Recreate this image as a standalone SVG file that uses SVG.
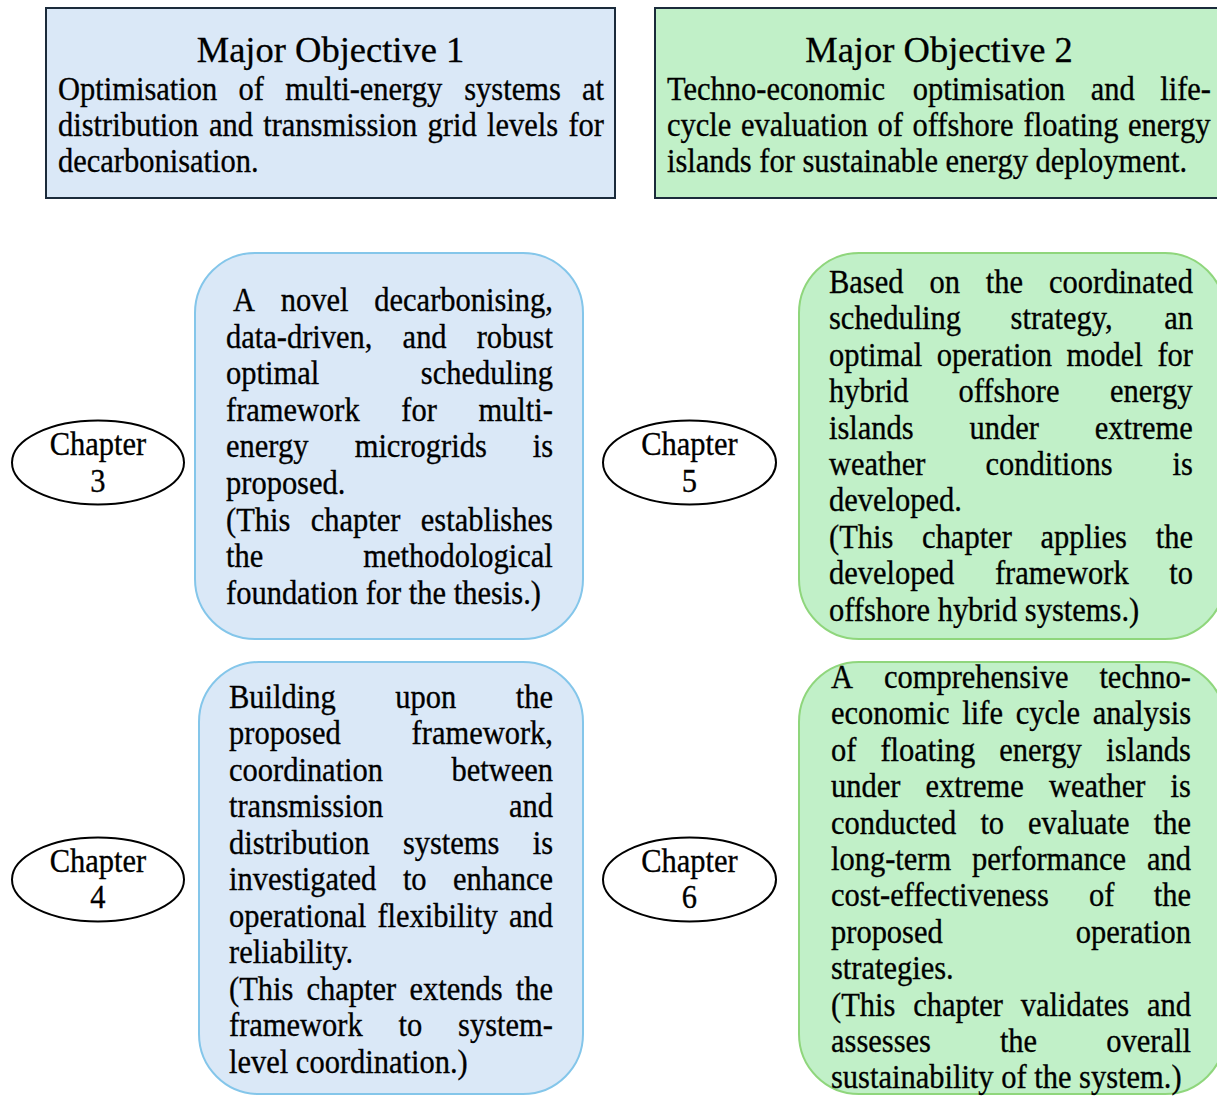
<svg xmlns="http://www.w3.org/2000/svg" width="1217" height="1096" viewBox="0 0 1217 1096">
<style>
text{font-family:"Liberation Serif","Times New Roman",serif;fill:#000;stroke:#000;stroke-width:0.3;}
.t{font-size:36.5px;text-anchor:middle;}
.b{font-size:30.5px;}
.c{font-size:30.5px;text-anchor:middle;}
.obj1{fill:#dae8f7;stroke:#1b2b3b;stroke-width:2;}
.obj2{fill:#c1f0c8;stroke:#1b2b3b;stroke-width:2;}
.ch-b{fill:#dae8f7;stroke:#84c6ea;stroke-width:2;}
.ch-g{fill:#c1f0c8;stroke:#8fd67c;stroke-width:2;}
.ell{fill:#fff;stroke:#000;stroke-width:2;}
</style>
<rect width="1217" height="1096" fill="#fff"/>
<g id="connectors"/>
<g id="objective1">
<rect class="obj1" x="46" y="8" width="569" height="190"/>
<text class="t" x="330.5" y="62">Major Objective 1</text>
<text class="b" y="100" transform="matrix(1 0 0 1.1 0 -10)"><tspan x="58">Optimisation</tspan><tspan x="238.6">of</tspan><tspan x="285.3">multi-energy</tspan><tspan x="464.2">systems</tspan><tspan x="582.1">at</tspan></text>
<text class="b" y="136" transform="matrix(1 0 0 1.1 0 -13.6)"><tspan x="58">distribution</tspan><tspan x="209">and</tspan><tspan x="263.2">transmission</tspan><tspan x="427.6">grid</tspan><tspan x="487">levels</tspan><tspan x="568.4">for</tspan></text>
<text class="b" x="58" y="172" transform="matrix(1 0 0 1.1 0 -17.2)">decarbonisation.</text>
</g>
<g id="objective2">
<rect class="obj2" x="655" y="8" width="568" height="190"/>
<text class="t" x="939" y="62">Major Objective 2</text>
<text class="b" y="100" transform="matrix(1 0 0 1.1 0 -10)"><tspan x="667">Techno-economic</tspan><tspan x="912.7">optimisation</tspan><tspan x="1090.7">and</tspan><tspan x="1160.2">life-</tspan></text>
<text class="b" y="136" transform="matrix(1 0 0 1.1 0 -13.6)"><tspan x="667">cycle</tspan><tspan x="740.9">evaluation</tspan><tspan x="877.5">of</tspan><tspan x="912.5">offshore</tspan><tspan x="1023.6">floating</tspan><tspan x="1128">energy</tspan></text>
<text class="b" x="667" y="172" transform="matrix(1 0 0 1.1 0 -17.2)">islands for sustainable energy deployment.</text>
</g>
<g id="chapter3-label">
<ellipse class="ell" cx="98" cy="462.5" rx="86" ry="42"/>
<text class="c" x="98" y="455" transform="matrix(1 0 0 1.1 0 -45.5)">Chapter</text>
<text class="c" x="98" y="492" transform="matrix(1 0 0 1.1 0 -49.2)">3</text>
</g>
<g id="chapter3">
<rect class="ch-b" x="195" y="253" width="388" height="386" rx="60" ry="60"/>
<text class="b" y="311" transform="matrix(1 0 0 1.1 0 -31.1)"><tspan x="233">A</tspan><tspan x="280.7">novel</tspan><tspan x="374.3">decarbonising,</tspan></text>
<text class="b" y="347.6" transform="matrix(1 0 0 1.1 0 -34.76)"><tspan x="226">data-driven,</tspan><tspan x="402.6">and</tspan><tspan x="476.7">robust</tspan></text>
<text class="b" y="384.2" transform="matrix(1 0 0 1.1 0 -38.42)"><tspan x="226">optimal</tspan><tspan x="420.8">scheduling</tspan></text>
<text class="b" y="420.8" transform="matrix(1 0 0 1.1 0 -42.08)"><tspan x="226">framework</tspan><tspan x="401.3">for</tspan><tspan x="478.4">multi-</tspan></text>
<text class="b" y="457.4" transform="matrix(1 0 0 1.1 0 -45.74)"><tspan x="226">energy</tspan><tspan x="354.7">microgrids</tspan><tspan x="532.7">is</tspan></text>
<text class="b" x="226" y="494" transform="matrix(1 0 0 1.1 0 -49.4)">proposed.</text>
<text class="b" y="530.6" transform="matrix(1 0 0 1.1 0 -53.06)"><tspan x="226">(This</tspan><tspan x="310.7">chapter</tspan><tspan x="420.8">establishes</tspan></text>
<text class="b" y="567.2" transform="matrix(1 0 0 1.1 0 -56.72)"><tspan x="226">the</tspan><tspan x="363.2">methodological</tspan></text>
<text class="b" x="226" y="603.8" transform="matrix(1 0 0 1.1 0 -60.38)">foundation for the thesis.)</text>
</g>
<g id="chapter4-label">
<ellipse class="ell" cx="98" cy="879.5" rx="86" ry="42"/>
<text class="c" x="98" y="872" transform="matrix(1 0 0 1.1 0 -87.2)">Chapter</text>
<text class="c" x="98" y="908" transform="matrix(1 0 0 1.1 0 -90.8)">4</text>
</g>
<g id="chapter4">
<rect class="ch-b" x="199" y="662" width="384" height="432" rx="60" ry="60"/>
<text class="b" y="708" transform="matrix(1 0 0 1.1 0 -70.8)"><tspan x="229">Building</tspan><tspan x="395.3">upon</tspan><tspan x="515.8">the</tspan></text>
<text class="b" y="744.5" transform="matrix(1 0 0 1.1 0 -74.45)"><tspan x="229">proposed</tspan><tspan x="411.6">framework,</tspan></text>
<text class="b" y="781" transform="matrix(1 0 0 1.1 0 -78.1)"><tspan x="229">coordination</tspan><tspan x="451.4">between</tspan></text>
<text class="b" y="817.5" transform="matrix(1 0 0 1.1 0 -81.75)"><tspan x="229">transmission</tspan><tspan x="509">and</tspan></text>
<text class="b" y="854" transform="matrix(1 0 0 1.1 0 -85.4)"><tspan x="229">distribution</tspan><tspan x="402.9">systems</tspan><tspan x="532.7">is</tspan></text>
<text class="b" y="890.5" transform="matrix(1 0 0 1.1 0 -89.05)"><tspan x="229">investigated</tspan><tspan x="402.9">to</tspan><tspan x="453.1">enhance</tspan></text>
<text class="b" y="927" transform="matrix(1 0 0 1.1 0 -92.7)"><tspan x="229">operational</tspan><tspan x="377.4">flexibility</tspan><tspan x="508.9">and</tspan></text>
<text class="b" x="229" y="963.5" transform="matrix(1 0 0 1.1 0 -96.35)">reliability.</text>
<text class="b" y="1000" transform="matrix(1 0 0 1.1 0 -100)"><tspan x="229">(This</tspan><tspan x="306.5">chapter</tspan><tspan x="409.4">extends</tspan><tspan x="515.7">the</tspan></text>
<text class="b" y="1036.5" transform="matrix(1 0 0 1.1 0 -103.65)"><tspan x="229">framework</tspan><tspan x="398.6">to</tspan><tspan x="458.1">system-</tspan></text>
<text class="b" x="229" y="1073" transform="matrix(1 0 0 1.1 0 -107.3)">level coordination.)</text>
</g>
<g id="chapter5-label">
<ellipse class="ell" cx="689.5" cy="462.5" rx="86.5" ry="42"/>
<text class="c" x="689.5" y="455" transform="matrix(1 0 0 1.1 0 -45.5)">Chapter</text>
<text class="c" x="689.5" y="492" transform="matrix(1 0 0 1.1 0 -49.2)">5</text>
</g>
<g id="chapter5">
<rect class="ch-g" x="799" y="253" width="426" height="386" rx="60" ry="60"/>
<text class="b" y="293" transform="matrix(1 0 0 1.1 0 -29.3)"><tspan x="829">Based</tspan><tspan x="929.4">on</tspan><tspan x="985.8">the</tspan><tspan x="1049">coordinated</tspan></text>
<text class="b" y="329.4" transform="matrix(1 0 0 1.1 0 -32.94)"><tspan x="829">scheduling</tspan><tspan x="1010.6">strategy,</tspan><tspan x="1164.2">an</tspan></text>
<text class="b" y="365.8" transform="matrix(1 0 0 1.1 0 -36.58)"><tspan x="829">optimal</tspan><tspan x="936.8">operation</tspan><tspan x="1066.6">model</tspan><tspan x="1157.4">for</tspan></text>
<text class="b" y="402.2" transform="matrix(1 0 0 1.1 0 -40.22)"><tspan x="829">hybrid</tspan><tspan x="958.5">offshore</tspan><tspan x="1110">energy</tspan></text>
<text class="b" y="438.6" transform="matrix(1 0 0 1.1 0 -43.86)"><tspan x="829">islands</tspan><tspan x="969.5">under</tspan><tspan x="1094.7">extreme</tspan></text>
<text class="b" y="475" transform="matrix(1 0 0 1.1 0 -47.5)"><tspan x="829">weather</tspan><tspan x="985.5">conditions</tspan><tspan x="1172.6">is</tspan></text>
<text class="b" x="829" y="511.4" transform="matrix(1 0 0 1.1 0 -51.14)">developed.</text>
<text class="b" y="547.8" transform="matrix(1 0 0 1.1 0 -54.78)"><tspan x="829">(This</tspan><tspan x="922.1">chapter</tspan><tspan x="1040.6">applies</tspan><tspan x="1155.7">the</tspan></text>
<text class="b" y="584.2" transform="matrix(1 0 0 1.1 0 -58.42)"><tspan x="829">developed</tspan><tspan x="994.9">framework</tspan><tspan x="1169.3">to</tspan></text>
<text class="b" x="829" y="620.6" transform="matrix(1 0 0 1.1 0 -62.06)">offshore hybrid systems.)</text>
</g>
<g id="chapter6-label">
<ellipse class="ell" cx="689.5" cy="879.5" rx="86.5" ry="42"/>
<text class="c" x="689.5" y="872" transform="matrix(1 0 0 1.1 0 -87.2)">Chapter</text>
<text class="c" x="689.5" y="908" transform="matrix(1 0 0 1.1 0 -90.8)">6</text>
</g>
<g id="chapter6">
<rect class="ch-g" x="799" y="662" width="426" height="432" rx="60" ry="60"/>
<text class="b" y="688" transform="matrix(1 0 0 1.1 0 -68.8)"><tspan x="831">A</tspan><tspan x="883.9">comprehensive</tspan><tspan x="1099.4">techno-</tspan></text>
<text class="b" y="724.4" transform="matrix(1 0 0 1.1 0 -72.44)"><tspan x="831">economic</tspan><tspan x="962.3">life</tspan><tspan x="1015.7">cycle</tspan><tspan x="1092.8">analysis</tspan></text>
<text class="b" y="760.8" transform="matrix(1 0 0 1.1 0 -76.08)"><tspan x="831">of</tspan><tspan x="880.4">floating</tspan><tspan x="999.3">energy</tspan><tspan x="1106.3">islands</tspan></text>
<text class="b" y="797.2" transform="matrix(1 0 0 1.1 0 -79.72)"><tspan x="831">under</tspan><tspan x="925.5">extreme</tspan><tspan x="1048.9">weather</tspan><tspan x="1170.5">is</tspan></text>
<text class="b" y="833.6" transform="matrix(1 0 0 1.1 0 -83.36)"><tspan x="831">conducted</tspan><tspan x="980.4">to</tspan><tspan x="1028.1">evaluate</tspan><tspan x="1153.7">the</tspan></text>
<text class="b" y="870" transform="matrix(1 0 0 1.1 0 -87)"><tspan x="831">long-term</tspan><tspan x="972.1">performance</tspan><tspan x="1147">and</tspan></text>
<text class="b" y="906.4" transform="matrix(1 0 0 1.1 0 -90.64)"><tspan x="831">cost-effectiveness</tspan><tspan x="1088.9">of</tspan><tspan x="1153.7">the</tspan></text>
<text class="b" y="942.8" transform="matrix(1 0 0 1.1 0 -94.28)"><tspan x="831">proposed</tspan><tspan x="1075.8">operation</tspan></text>
<text class="b" x="831" y="979.2" transform="matrix(1 0 0 1.1 0 -97.92)">strategies.</text>
<text class="b" y="1015.6" transform="matrix(1 0 0 1.1 0 -101.56)"><tspan x="831">(This</tspan><tspan x="913.2">chapter</tspan><tspan x="1020.8">validates</tspan><tspan x="1147">and</tspan></text>
<text class="b" y="1052" transform="matrix(1 0 0 1.1 0 -105.2)"><tspan x="831">assesses</tspan><tspan x="999.9">the</tspan><tspan x="1106.3">overall</tspan></text>
<text class="b" x="831" y="1088.4" transform="matrix(1 0 0 1.1 0 -108.84)">sustainability of the system.)</text>
</g>
</svg>
